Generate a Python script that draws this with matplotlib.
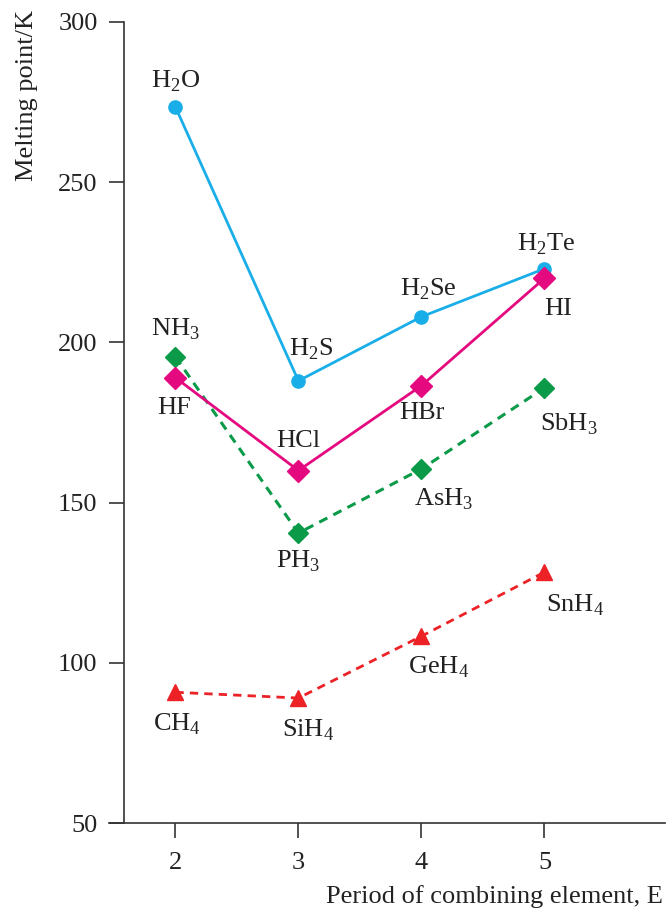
import matplotlib
matplotlib.use("Agg")
import matplotlib.pyplot as plt

plt.rcParams['font.family'] = ['Liberation Serif', 'DejaVu Serif']
plt.rcParams['mathtext.fontset'] = 'custom'
plt.rcParams['mathtext.rm'] = 'Liberation Serif'

periods = [2, 3, 4, 5]

group16 = [273.5, 188, 208, 223]
group16_labels = [r'H$_\mathregular{2}$O', r'H$_\mathregular{2}$S', r'H$_\mathregular{2}$Se', r'H$_\mathregular{2}$Te']
group17 = [189, 160, 186.5, 220]
group17_labels = ['HF', 'HCl', 'HBr', 'HI']
group15 = [195.5, 140.5, 160.5, 185.8]
group15_labels = [r'NH$_\mathregular{3}$', r'PH$_\mathregular{3}$', r'AsH$_\mathregular{3}$', r'SbH$_\mathregular{3}$']
group14 = [90.8, 89, 108.3, 128.3]
group14_labels = [r'CH$_\mathregular{4}$', r'SiH$_\mathregular{4}$', r'GeH$_\mathregular{4}$', r'SnH$_\mathregular{4}$']

c16 = '#1AAEE8'
c17 = '#E5097F'
c15 = '#0A9A48'
c14 = '#EC2227'

fig = plt.figure(figsize=(6.67, 9.17), dpi=100)
ax = fig.add_axes([109/667, 1 - 823/917, (665 - 109)/667, (823 - 22)/917])

ax.set_xlim(1.46, 5.98)
ax.set_ylim(50, 300)

ax.plot(periods, group16, '-', color=c16, lw=2, marker='o', ms=9.5, zorder=3)
ax.plot(periods, group15, '--', color=c15, lw=2.2, marker='D', ms=10, dashes=(3, 2.2), zorder=2)
ax.plot(periods, group17, '-', color=c17, lw=2, marker='D', ms=11, zorder=3)
ax.plot(periods, group14, '--', color=c14, lw=2, marker='^', ms=11, dashes=(3, 2.2), zorder=2)

fs = 19
def lab(xs, ys, labels, offs):
    for x, y, t, (dx, dy) in zip(xs, ys, labels, offs):
        ax.annotate(t, (x, y), xytext=(dx, dy), textcoords='offset pixels',
                    ha='center', va='center', fontsize=fs, color='#222222')

lab(periods, group16, group16_labels, [(0, 26), (13, 32), (7, 28), (2, 24)])
lab(periods, group17, group17_labels, [(-1, -30), (0, 30), (0, -27), (14, -31)])
lab(periods, group15, group15_labels, [(0, 28), (0, -28), (22, -30), (24, -36)])
lab(periods, group14, group14_labels, [(2, -32), (10, -32), (17, -31), (31, -33)])

ax.spines['top'].set_visible(False)
ax.spines['right'].set_visible(False)
ax.spines['left'].set_position(('data', 1.58))
for s in ('left', 'bottom'):
    ax.spines[s].set_linewidth(1.2)
    ax.spines[s].set_color('#333333')

ax.set_xticks(periods)
ax.set_yticks([50, 100, 150, 200, 250, 300])
ax.tick_params(axis='both', direction='out', length=10.8, width=1.2, color='#333333',
               labelsize=fs, labelcolor='#222222')
ax.tick_params(axis='x', pad=10)
ax.tick_params(axis='y', pad=8)

fig.text(27/667, 1 - 10/917, 'Melting point/K', rotation=90, ha='center', va='top',
         fontsize=fs, color='#222222')
fig.text(663/667, 1 - 897/917, 'Period of combining element, E', ha='right', va='center',
         fontsize=fs, color='#222222')

fig.savefig('out.png', dpi=100)
